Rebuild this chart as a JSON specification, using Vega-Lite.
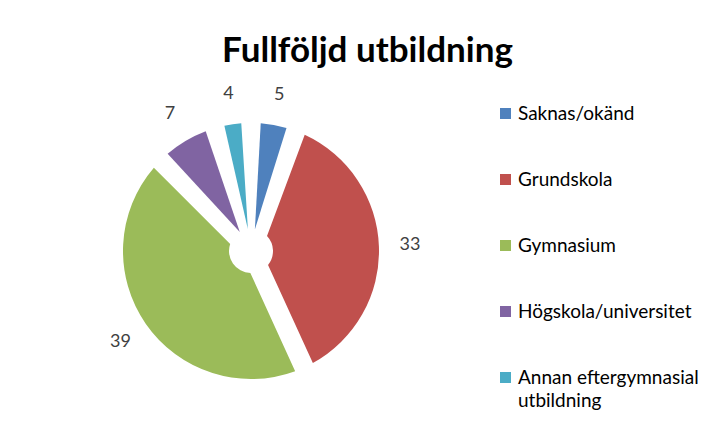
{
  "$schema": "https://vega.github.io/schema/vega-lite/v6.json",
  "width": 502,
  "height": 352,
  "autosize": {"type": "none"},
  "padding": {"left": 0, "top": 75, "right": 217, "bottom": 8},
  "background": "white",
  "title": {
    "text": "Fullföljd utbildning",
    "font": "Lato",
    "fontSize": 35,
    "fontWeight": "bold",
    "color": "#000000",
    "anchor": "middle",
    "frame": "bounds",
    "baseline": "alphabetic",
    "offset": -22,
    "dx": 18
  },
  "data": {
    "values": [
      {"nr": 1, "kategori": "Saknas/okänd", "antal": 5},
      {"nr": 2, "kategori": "Grundskola", "antal": 33},
      {"nr": 3, "kategori": "Gymnasium", "antal": 39},
      {"nr": 4, "kategori": "Högskola/universitet", "antal": 7},
      {"nr": 5, "kategori": "Annan eftergymnasial utbildning", "antal": 4}
    ]
  },
  "encoding": {
    "theta": {"field": "antal", "type": "quantitative", "stack": true},
    "order": {"field": "nr", "type": "quantitative"},
    "color": {
      "field": "kategori",
      "type": "nominal",
      "sort": ["Saknas/okänd", "Grundskola", "Gymnasium", "Högskola/universitet", "Annan eftergymnasial utbildning"],
      "scale": {
        "domain": ["Saknas/okänd", "Grundskola", "Gymnasium", "Högskola/universitet", "Annan eftergymnasial utbildning"],
        "range": ["#4F81BD", "#C0504D", "#9BBB59", "#8064A2", "#4BACC6"]
      },
      "legend": {
        "orient": "none",
        "legendX": 496,
        "legendY": 29,
        "title": null,
        "padding": 0,
        "symbolType": "square",
        "symbolSize": 121,
        "symbolStrokeWidth": 0,
        "labelFont": "Lato",
        "labelFontSize": 19,
        "labelColor": "#000000",
        "labelOffset": 3,
        "labelLimit": 300,
        "rowPadding": 46,
        "labelExpr": "datum.label == 'Annan eftergymnasial utbildning' ? ['Annan eftergymnasial', 'utbildning'] : datum.label",
        "encode": {"labels": {"update": {"lineHeight": {"value": 23}}}}
      }
    }
  },
  "layer": [
    {"mark": {"type": "arc", "outerRadius": 128, "innerRadius": 22, "padAngle": 0.15}},
    {
      "mark": {"type": "text", "radius": 159, "font": "Lato", "fontSize": 18},
      "encoding": {
        "text": {"field": "antal", "type": "quantitative"},
        "color": {"value": "#404040"}
      }
    }
  ],
  "config": {"view": {"stroke": null}}
}
